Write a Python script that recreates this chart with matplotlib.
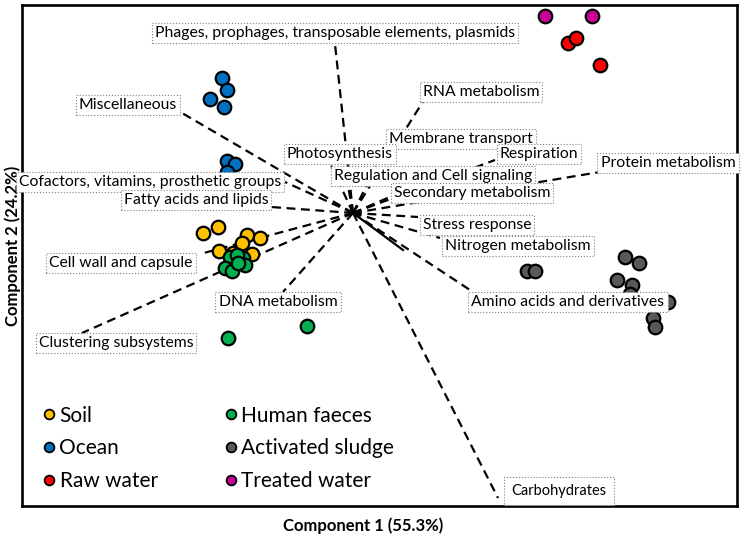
import matplotlib
matplotlib.use("Agg")
import matplotlib.pyplot as plt
from matplotlib.lines import Line2D

plt.rcParams['font.family'] = ['Lato', 'DejaVu Sans']

# sample scores (component 1, component 2)
soil_x = [-1.50, -1.35, -1.06, -0.93, -1.11, -1.34, -1.01, -1.20]
soil_y = [-0.20, -0.14, -0.22, -0.25, -0.30, -0.38, -0.41, -0.40]
ocean_x = [-1.31, -1.26, -1.43, -1.29, -1.26, -1.18, -1.26]
ocean_y = [1.35, 1.23, 1.14, 1.06, 0.52, 0.49, 0.41]
raw_x = [2.15, 2.23, 2.47]
raw_y = [1.70, 1.75, 1.48]
faeces_x = [-1.23, -1.10, -1.16, -1.08, -1.28, -1.21, -1.15, -1.25, -0.46]
faeces_y = [-0.44, -0.45, -0.42, -0.52, -0.55, -0.58, -0.50, -1.25, -1.13]
sludge_x = [1.74, 1.82, 2.72, 2.86, 2.64, 2.79, 2.77, 3.15, 3.00, 3.02]
sludge_y = [-0.58, -0.58, -0.44, -0.50, -0.67, -0.72, -0.81, -0.89, -1.05, -1.14]
treated_x = [1.92, 2.39]
treated_y = [1.97, 1.97]

groups = ["Soil", "Ocean", "Raw water", "Human faeces", "Activated sludge", "Treated water"]
group_x = [soil_x, ocean_x, raw_x, faeces_x, sludge_x, treated_x]
group_y = [soil_y, ocean_y, raw_y, faeces_y, sludge_y, treated_y]
group_colors = ["#FFC000", "#0070C0", "#FF0000", "#00B050", "#595959", "#CC0099"]

# subsystem loadings (line end) and where their labels sit; later labels overlap earlier ones
subsystems = ["Phages, prophages, transposable elements, plasmids", "Miscellaneous",
	"Cofactors, vitamins, prosthetic groups", "Fatty acids and lipids", "Cell wall and capsule",
	"Clustering subsystems", "DNA metabolism", "Carbohydrates", "Amino acids and derivatives",
	"Nitrogen metabolism", "Stress response", "Protein metabolism", "Membrane transport",
	"RNA metabolism", "Regulation and Cell signaling", "Secondary metabolism", "Respiration",
	"Photosynthesis"]
load_x = [-0.18, -1.71, -0.68, -0.82, -1.53, -2.71, -0.70, 1.45, 1.17, 0.87, 0.65, 2.47, 0.32, 0.71, -0.05, 0.39, 1.42, -0.23]
load_y = [1.69, 1.00, 0.31, 0.06, -0.41, -1.20, -0.79, -2.85, -0.77, -0.25, -0.04, 0.41, 0.65, 1.13, 0.27, 0.17, 0.53, 0.50]
label_x = [-0.18, -2.25, -2.03, -1.57, -2.32, -2.37, -0.75, 2.06, 2.15, 1.65, 1.24, 3.15, 1.08, 1.28, 0.80, 1.19, 1.86, -0.13]
label_y = [1.80, 1.08, 0.31, 0.13, -0.50, -1.30, -0.89, -2.78, -0.89, -0.33, -0.12, 0.50, 0.74, 1.21, 0.37, 0.20, 0.59, 0.59]
# one short loading drawn solid, without a label
solid_x = 0.50
solid_y = -0.37

fig = plt.figure(figsize=(7.48, 5.41), dpi=100)
ax = fig.add_axes([22 / 748, 35 / 541, 715 / 748, 501 / 541])
ax.set_xlim(-3.31, 3.84)
ax.set_ylim(-2.93, 2.08)

for sx, sy in zip(load_x, load_y):
	ax.plot([0, sx], [0, sy], color="black", lw=1.6, ls=(0, (4, 2.5)), zorder=1)
ax.plot([0, solid_x], [0, solid_y], color="black", lw=1.6, zorder=1)

for name, xs, ys, col in zip(groups, group_x, group_y, group_colors):
	ax.scatter(xs, ys, s=95, color=col, edgecolors="black", linewidths=1.6, zorder=3)

for i, (name, tx, ty) in enumerate(zip(subsystems, label_x, label_y)):
	# Carbohydrates sits in a smaller font with a roomier box
	size, pad = (10.5, 0.5) if name == "Carbohydrates" else (11.3, 0.2)
	box = dict(boxstyle=f"square,pad={pad}", facecolor="white", edgecolor="#808080", linestyle=":", linewidth=0.8)
	ax.text(tx, ty, name, ha="center", va="center", fontsize=size, bbox=box, zorder=4 + i * 0.01)

handles = [Line2D([], [], ls="none", marker="o", markersize=7, markerfacecolor=c,
	markeredgecolor="black", markeredgewidth=1.3) for c in group_colors]
ax.legend(handles, groups, ncol=2, loc="lower left", frameon=False, fontsize=15,
	handletextpad=-0.1, handlelength=1.2, columnspacing=2.9, labelspacing=0.62,
	bbox_to_anchor=(0.0, 0.0), borderaxespad=0.3)

ax.set_xticks([])
ax.set_yticks([])
for sp in ax.spines.values():
	sp.set_linewidth(1.9)

ax.set_xlabel("Component 1 (55.3%)", fontsize=12, fontweight="bold")
ax.set_ylabel("Component 2 (24.2%)", fontsize=12, fontweight="bold")
ax.xaxis.set_label_coords(0.477, -0.022, transform=ax.transAxes)
ax.yaxis.set_label_coords(-0.002, 0.52, transform=ax.transAxes)

fig.savefig("out.png", dpi=100)
